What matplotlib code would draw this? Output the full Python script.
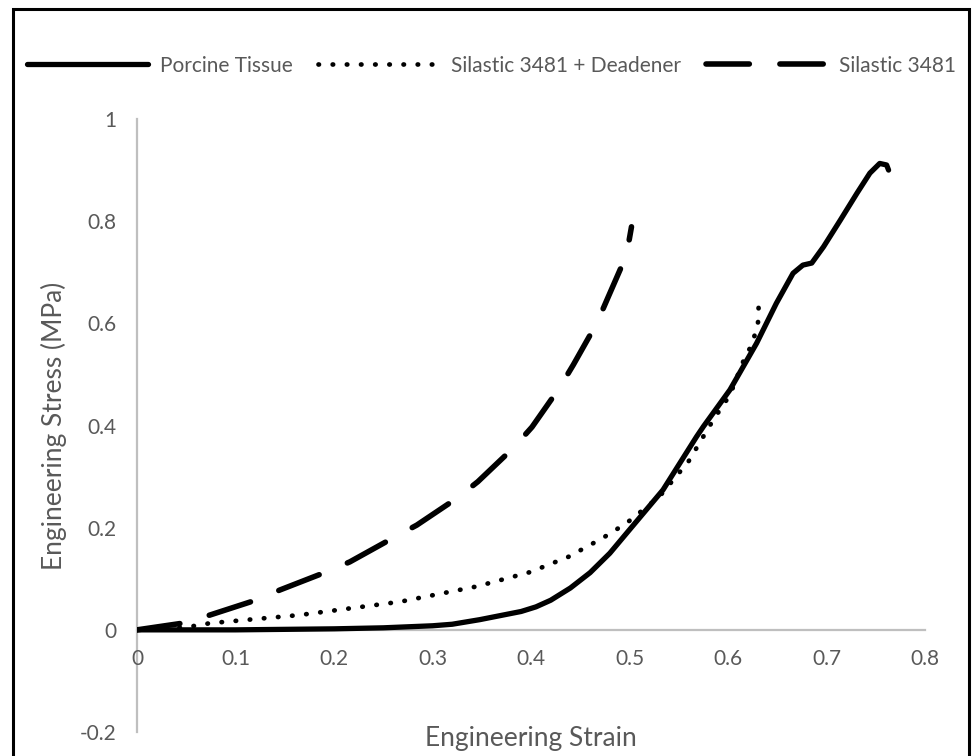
import matplotlib
matplotlib.use('Agg')
import matplotlib.pyplot as plt
from matplotlib.patches import Rectangle

# data
porcine_strain = [0, 0.05, 0.1, 0.2, 0.25, 0.3, 0.32, 0.348, 0.369, 0.39, 0.405, 0.42, 0.44,
                  0.46, 0.48, 0.5, 0.534, 0.568, 0.575, 0.602, 0.629, 0.649, 0.666, 0.676,
                  0.685, 0.697, 0.714, 0.731, 0.744, 0.754, 0.761, 0.763]
porcine_stress = [0, 0.0, 0.0, 0.002, 0.004, 0.008, 0.011, 0.020, 0.028, 0.036, 0.045, 0.058,
                  0.082, 0.112, 0.150, 0.196, 0.274, 0.378, 0.398, 0.470, 0.561, 0.639, 0.698,
                  0.714, 0.718, 0.750, 0.802, 0.855, 0.894, 0.913, 0.910, 0.900]

deadener_strain = [0, 0.05, 0.074, 0.165, 0.267, 0.345, 0.399, 0.438, 0.473, 0.497, 0.53,
                   0.56, 0.585, 0.602, 0.617, 0.623, 0.628, 0.631, 0.631]
deadener_stress = [0, 0.005, 0.013, 0.029, 0.055, 0.085, 0.113, 0.143, 0.180, 0.209, 0.26,
                   0.33, 0.411, 0.460, 0.533, 0.554, 0.582, 0.607, 0.636]

silastic_strain = [0, 0.046, 0.074, 0.122, 0.145, 0.193, 0.216, 0.260, 0.284, 0.325, 0.346,
                   0.382, 0.401, 0.429, 0.443, 0.467, 0.478, 0.497, 0.502]
silastic_stress = [0, 0.013, 0.029, 0.059, 0.078, 0.114, 0.133, 0.180, 0.205, 0.258, 0.29,
                   0.356, 0.397, 0.474, 0.519, 0.601, 0.650, 0.734, 0.789]

x_ticks = [0, 0.1, 0.2, 0.3, 0.4, 0.5, 0.6, 0.7, 0.8]
y_ticks = [-0.2, 0, 0.2, 0.4, 0.6, 0.8, 1]

plt.rcParams['font.family'] = ['Lato', 'DejaVu Sans']
GREY = '#595959'

fig = plt.figure(figsize=(9.73, 7.56), dpi=100)
ax = fig.add_axes([0.1408, 0.0317, 0.8099, 0.8109])

ax.plot(porcine_strain, porcine_stress, color='black', lw=3.8,
        solid_capstyle='round', solid_joinstyle='round', label='Porcine Tissue')
ax.plot(deadener_strain, deadener_stress, color='black', lw=3.4,
        linestyle=(0, (0.1, 2.9)), dash_capstyle='round', label='Silastic 3481 + Deadener')
ax.plot(silastic_strain, silastic_stress, color='black', lw=4.0,
        linestyle=(0, (7.8, 5.5)), dash_capstyle='round', dash_joinstyle='round',
        label='Silastic 3481')

ax.set_xlim(0, 0.8)
ax.set_ylim(-0.2, 1)
ax.set_xticks(x_ticks)
ax.set_yticks(y_ticks)
ax.set_xticklabels(['0' if v == 0 else f'{v:g}' for v in x_ticks])
ax.set_yticklabels(['0' if v == 0 else f'{v:g}' for v in y_ticks])

for s in ['top', 'right']:
    ax.spines[s].set_visible(False)
ax.spines['bottom'].set_position(('data', 0))
for s in ['left', 'bottom']:
    ax.spines[s].set_color('#BFBFBF')
    ax.spines[s].set_linewidth(1.6)
    ax.spines[s].set_zorder(0)

ax.tick_params(axis='both', length=0, labelsize=15, labelcolor=GREY)
ax.tick_params(axis='x', pad=14)
ax.tick_params(axis='y', pad=15)

# axis titles centred on the plot area, as Excel does
ax.text(-0.105, 0.5, 'Engineering Stress (MPa)', transform=ax.transAxes, rotation=90,
        ha='center', va='center', fontsize=19, color=GREY)
ax.text(0.5, -0.01, 'Engineering Strain', transform=ax.transAxes,
        ha='center', va='center', fontsize=19, color=GREY)

leg = fig.legend(loc='center', bbox_to_anchor=(0.505, 0.913), ncol=3, frameon=False,
                 fontsize=15, handlelength=5.8, columnspacing=1.2, handletextpad=0.58)
for t in leg.get_texts():
    t.set_color(GREY)

fig.patches.append(Rectangle((0.013, -0.05), 0.983, 1.038, transform=fig.transFigure,
                             fill=False, edgecolor='black', lw=2.2))

fig.savefig('out.png', dpi=100)
